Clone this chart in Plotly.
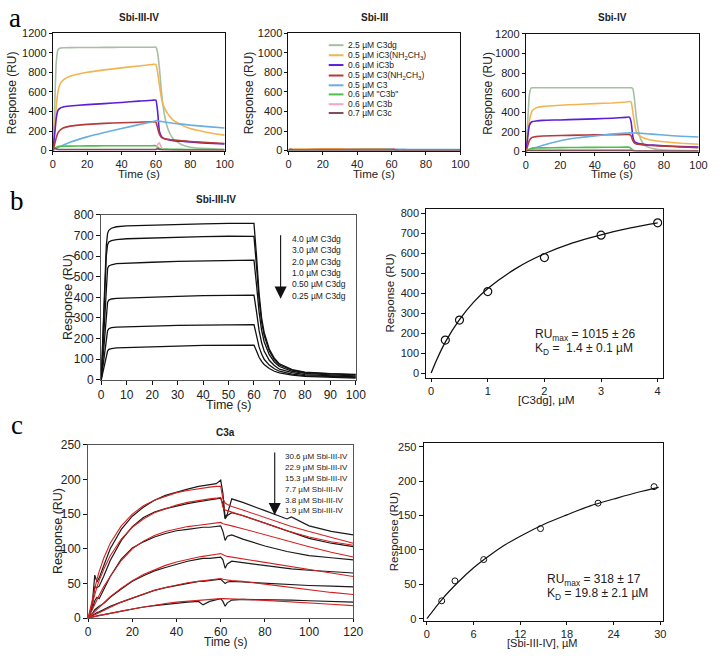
import plotly.graph_objects as go

W, H = 722, 660
def PX(x): return x / W
def PY(y): return 1 - y / H

FONT = "Liberation Sans, Arial, sans-serif"
SERIF = "Liberation Serif, Times New Roman, serif"

# ---------------- Panel a data ----------------
species = ["2.5 µM C3dg", "0.5 µM iC3(NH<sub>2</sub>CH<sub>3</sub>)", "0.6 µM iC3b",
           "0.5 µM C3(NH<sub>2</sub>CH<sub>3</sub>)", "0.5 µM C3", "0.6 µM \"C3b\"",
           "0.6 µM C3b", "0.7 µM C3c"]
species_colors = ["#a7bfa3", "#f2b451", "#5b1fd6", "#b53a3a", "#6aaee0", "#4cc04c",
                  "#f2a7c4", "#7e5058"]

t_a = [0, 1, 2, 3, 4, 6, 10, 20, 30, 40, 50, 58, 60, 61, 62, 63, 64, 66, 68, 70, 75, 80, 90, 100]

a1_C3dg   = [0, 400, 900, 1030, 1045, 1050, 1052, 1053, 1054, 1055, 1055, 1056, 1056, 1000, 850, 650, 480, 280, 180, 120, 60, 35, 20, 12]
a1_iC3NH  = [0, 200, 450, 600, 670, 720, 760, 800, 825, 845, 865, 880, 880, 800, 680, 560, 480, 400, 350, 310, 260, 225, 185, 158]
a1_iC3b   = [0, 150, 330, 410, 430, 445, 455, 470, 480, 492, 505, 515, 515, 400, 200, 150, 130, 115, 108, 102, 95, 88, 75, 67]
a1_C3NH   = [0, 60, 130, 180, 205, 230, 250, 268, 278, 285, 290, 295, 290, 230, 170, 140, 128, 118, 112, 108, 100, 93, 82, 72]
a1_C3     = [0, 10, 20, 30, 40, 55, 85, 140, 185, 225, 265, 295, 305, 305, 300, 298, 295, 290, 285, 280, 270, 260, 245, 230]
a1_C3bq   = [0, 15, 35, 42, 44, 45, 46, 48, 49, 50, 50, 50, 50, 35, 22, 18, 16, 15, 14, 13, 12, 11, 10, 9]
a1_C3b    = [0, 15, 12, 10, 9, 8, 8, 8, 8, 8, 8, 9, 10, 60, 80, 40, 15, 8, 7, 6, 6, 5, 5, 5]
a1_C3c    = [0, 25, 18, 12, 10, 10, 10, 10, 10, 10, 10, 10, 10, 20, 10, 8, 7, 6, 6, 5, 5, 5, 5, 5]

a2_C3dg   = [0, 12, 10, 10, 10, 10, 10, 10, 10, 10, 10, 10, 10, 15, 8, 6, 5, 5, 5, 5, 5, 5, 5, 5]
a2_iC3NH  = [0, 14, 16, 16, 16, 16, 16, 17, 17, 17, 18, 18, 18, 14, 10, 9, 9, 9, 9, 9, 8, 8, 8, 8]
a2_iC3b   = [0, 8, 7, 7, 7, 7, 7, 7, 7, 7, 7, 7, 7, 10, 6, 5, 5, 5, 5, 5, 5, 5, 5, 5]
a2_C3NH   = [0, 10, 9, 9, 9, 9, 9, 10, 10, 10, 10, 10, 10, 14, 8, 7, 6, 6, 6, 6, 6, 6, 6, 6]
a2_C3     = [0, 5, 6, 6, 6, 7, 7, 8, 9, 10, 11, 12, 12, 12, 12, 12, 12, 12, 12, 11, 11, 11, 10, 10]
a2_C3bq   = [0, 6, 6, 6, 6, 6, 6, 6, 6, 6, 6, 6, 6, 8, 5, 4, 4, 4, 4, 4, 4, 4, 4, 4]
a2_C3b    = [0, 20, 10, 6, 6, 6, 6, 6, 6, 6, 6, 6, 6, 22, 14, 6, 5, 4, 4, 4, 4, 4, 4, 4]
a2_C3c    = [0, 14, 8, 6, 6, 6, 6, 6, 6, 6, 6, 6, 6, 12, 6, 5, 4, 4, 4, 4, 4, 4, 4, 4]

a3_C3dg   = [0, 250, 560, 645, 650, 650, 650, 650, 650, 650, 650, 650, 650, 650, 640, 520, 350, 150, 80, 50, 25, 15, 10, 8]
a3_iC3NH  = [0, 150, 300, 380, 420, 445, 460, 472, 480, 488, 495, 505, 510, 505, 400, 280, 200, 160, 140, 128, 110, 100, 85, 75]
a3_iC3b   = [0, 120, 260, 295, 305, 312, 318, 322, 328, 333, 340, 348, 350, 300, 150, 100, 90, 80, 75, 70, 64, 58, 50, 45]
a3_C3NH   = [0, 50, 110, 135, 145, 152, 158, 163, 167, 170, 172, 174, 175, 160, 110, 85, 78, 72, 68, 65, 60, 55, 47, 40]
a3_C3     = [0, 8, 16, 24, 30, 42, 65, 110, 140, 160, 178, 188, 190, 190, 190, 189, 188, 186, 184, 181, 175, 168, 156, 148]
a3_C3bq   = [0, 10, 25, 32, 35, 37, 38, 40, 42, 43, 44, 45, 45, 30, 15, 10, 8, 7, 6, 6, 5, 5, 5, 5]
a3_C3b    = [0, 18, 16, 15, 15, 15, 15, 15, 15, 15, 15, 15, 15, 20, 10, 7, 6, 5, 5, 5, 5, 5, 5, 5]
a3_C3c    = [0, 14, 12, 10, 10, 10, 10, 10, 10, 10, 10, 10, 10, 12, 8, 6, 5, 5, 5, 5, 5, 5, 5, 5]

a_panels = [
    ("Sbi-III-IV", [a1_C3dg, a1_iC3NH, a1_iC3b, a1_C3NH, a1_C3, a1_C3bq, a1_C3b, a1_C3c]),
    ("Sbi-III",    [a2_C3dg, a2_iC3NH, a2_iC3b, a2_C3NH, a2_C3, a2_C3bq, a2_C3b, a2_C3c]),
    ("Sbi-IV",     [a3_C3dg, a3_iC3NH, a3_iC3b, a3_C3NH, a3_C3, a3_C3bq, a3_C3b, a3_C3c]),
]

# ---------------- Panel b data ----------------
b_labels = ["4.0 µM C3dg", "3.0 µM C3dg", "2.0 µM C3dg", "1.0 µM C3dg", "0.50 µM C3dg", "0.25 µM C3dg"]
t_b = [0, 1, 2, 2.5, 3, 4, 6, 10, 20, 30, 40, 50, 58, 60, 61, 62, 63, 64, 66, 68, 70, 75, 80, 90, 100]
b_c40 = [0, 300, 650, 710, 725, 735, 742, 746, 750, 753, 756, 758, 760, 758, 600, 420, 300, 230, 150, 105, 78, 50, 38, 30, 27]
b_c30 = [0, 270, 600, 655, 668, 675, 680, 684, 688, 691, 694, 696, 698, 695, 550, 390, 280, 215, 140, 98, 72, 47, 35, 28, 24]
b_c20 = [0, 220, 490, 540, 552, 558, 563, 566, 570, 574, 577, 580, 582, 580, 460, 330, 240, 185, 122, 87, 65, 42, 32, 24, 20]
b_c10 = [0, 150, 330, 375, 387, 392, 395, 397, 401, 405, 408, 411, 413, 411, 330, 240, 180, 140, 95, 70, 52, 35, 26, 19, 15]
b_c05 = [0, 90, 200, 238, 248, 253, 256, 258, 261, 264, 266, 268, 270, 268, 215, 160, 125, 100, 72, 54, 42, 28, 21, 15, 12]
b_c025 = [0, 55, 120, 140, 148, 152, 155, 157, 161, 164, 167, 169, 171, 169, 140, 110, 90, 75, 55, 42, 34, 23, 17, 12, 9]

b_conc = [0.25, 0.5, 1, 2, 3, 4]
b_resp = [165, 265, 408, 578, 690, 752]
b_fit_x = [0, 0.1, 0.25, 0.5, 0.75, 1, 1.5, 2, 2.5, 3, 3.5, 4]
b_fit_y = [0, 68, 155, 267, 355, 423, 524, 597, 652, 692, 725, 752]

# ---------------- Panel c data ----------------
c_labels = ["30.6 µM Sbi-III-IV", "22.9 µM Sbi-III-IV", "15.3 µM Sbi-III-IV",
            "7.7 µM Sbi-III-IV", "3.8 µM Sbi-III-IV", "1.9 µM Sbi-III-IV"]
t_c = [0, 1, 2, 3, 4, 5, 7, 10, 15, 20, 25, 30, 35, 40, 45, 50, 52, 55, 58, 60, 61, 62, 63, 65, 70, 80, 90, 92, 100, 110, 120]
c_obs1 = [0, 10, 25, 62, 52, 58, 75, 100, 128, 147, 160, 170, 177, 182, 186, 190, 191, 192, 194, 199, 180, 145, 150, 172, 167, 155, 143, 146, 133, 125, 120]
c_fit1 = [0, 15, 30, 44, 56, 67, 86, 108, 133, 150, 162, 170, 176, 181, 184, 187, 188, 189, 190, 190, 172, 166, 164, 161, 156, 145, 134, 132, 125, 116, 108]
c_obs2 = [0, 8, 20, 45, 44, 46, 60, 83, 112, 132, 145, 153, 158, 162, 165, 168, 169, 170, 171, 173, 165, 143, 148, 152, 148, 137, 125, 123, 115, 108, 103]
c_fit2 = [0, 12, 24, 35, 45, 54, 70, 90, 114, 131, 143, 152, 158, 163, 167, 170, 171, 172, 173, 174, 160, 156, 155, 153, 148, 137, 126, 124, 117, 110, 105]
c_obs3 = [0, 6, 14, 25, 30, 28, 40, 60, 85, 101, 110, 117, 122, 126, 128, 130, 131, 131, 132, 133, 125, 112, 118, 120, 114, 104, 96, 95, 90, 87, 84]
c_fit3 = [0, 7, 14, 21, 27, 33, 45, 60, 83, 100, 111, 119, 125, 129, 132, 134, 135, 136, 137, 138, 136, 135, 134, 133, 129, 120, 111, 110, 103, 95, 88]
c_obs4 = [0, 3, 7, 12, 15, 17, 21, 30, 42, 53, 61, 68, 73, 78, 82, 85, 86, 86, 87, 88, 84, 72, 78, 82, 80, 76, 72, 71, 69, 67, 65]
c_fit4 = [0, 3, 6, 10, 13, 16, 22, 31, 43, 54, 63, 70, 76, 81, 85, 88, 89, 90, 92, 93, 91, 90, 89, 88, 86, 81, 76, 75, 71, 65, 60]
c_obs5 = [0, 2, 4, 7, 8, 9, 12, 17, 23, 29, 35, 40, 44, 47, 50, 53, 53, 54, 55, 56, 53, 50, 52, 53, 52, 50, 48, 48, 47, 46, 45]
c_fit5 = [0, 1.5, 3, 5, 6.5, 8, 11, 16, 23, 29, 35, 40, 44, 48, 51, 53, 54, 55, 56, 57, 56, 55, 55, 54, 53, 49, 45, 44, 41, 37, 34]
c_obs6 = [0, 1, 2, 3, 3.5, 4, 5, 7, 10, 13, 16, 18, 20, 22, 23, 24, 19, 24, 26, 28, 24, 17, 22, 26, 27, 27, 26, 26, 25, 24, 23]
c_fit6 = [0, 0.7, 1.5, 2, 3, 3.5, 5, 7, 10, 13, 16, 18, 21, 23, 24.5, 26, 26.5, 27, 27.5, 28, 28, 28, 27.8, 27.5, 27, 25.5, 24, 23.7, 22, 20, 18]

c_conc = [1.9, 3.6, 7.3, 14.6, 22.0, 29.2]
c_resp = [26, 55, 86, 131, 168, 192]
c_fit_x = [0, 2, 4, 6, 8, 10, 12, 15, 18, 21, 24, 27, 29.8]
c_fit_y = [0, 29, 53, 74, 91.5, 107, 120, 137, 151, 164, 174, 183.5, 191]

fig = go.Figure()

# ---------------- traces ----------------
for k, (title, curves) in enumerate(a_panels):
    ax = "" if k == 0 else str(k + 1)
    for name, col, ys in zip(species, species_colors, curves):
        fig.add_trace(go.Scatter(x=t_a, y=ys, mode="lines", name=name,
                                 line=dict(color=col, width=1.6, shape="spline", smoothing=0.4),
                                 xaxis="x" + ax, yaxis="y" + ax, showlegend=False))

for ys in [b_c40, b_c30, b_c20, b_c10, b_c05, b_c025]:
    fig.add_trace(go.Scatter(x=t_b, y=ys, mode="lines", line=dict(color="#111", width=1.3),
                             xaxis="x4", yaxis="y4", showlegend=False))

fig.add_trace(go.Scatter(x=b_fit_x, y=b_fit_y, mode="lines", line=dict(color="#111", width=1.3, shape="spline"),
                         xaxis="x5", yaxis="y5", showlegend=False))
fig.add_trace(go.Scatter(x=b_conc, y=b_resp, mode="markers",
                         marker=dict(symbol="circle-open", size=8, color="#111", line=dict(width=1.2)),
                         xaxis="x5", yaxis="y5", showlegend=False))

for obs in [c_obs1, c_obs2, c_obs3, c_obs4, c_obs5, c_obs6]:
    fig.add_trace(go.Scatter(x=t_c, y=obs, mode="lines", line=dict(color="#1a1a1a", width=1.2),
                             xaxis="x6", yaxis="y6", showlegend=False))
for fit in [c_fit1, c_fit2, c_fit3, c_fit4, c_fit5, c_fit6]:
    fig.add_trace(go.Scatter(x=t_c, y=fit, mode="lines", line=dict(color="#d42020", width=1.1),
                             xaxis="x6", yaxis="y6", showlegend=False))

fig.add_trace(go.Scatter(x=c_fit_x, y=c_fit_y, mode="lines", line=dict(color="#111", width=1.2, shape="spline"),
                         xaxis="x7", yaxis="y7", showlegend=False))
fig.add_trace(go.Scatter(x=c_conc, y=c_resp, mode="markers",
                         marker=dict(symbol="circle-open", size=6, color="#111", line=dict(width=1)),
                         xaxis="x7", yaxis="y7", showlegend=False))

# ---------------- axes ----------------
def axis(dom, rng, dtick, fs, ticklen=3, linecolor="#111"):
    return dict(domain=dom, range=rng, dtick=dtick, tick0=0, showgrid=False, zeroline=False,
                showline=True, linecolor=linecolor, linewidth=1, mirror=True,
                ticks="outside", ticklen=ticklen, tickwidth=1, tickcolor="#111",
                tickfont=dict(family=FONT, size=fs, color="#222"))

lay = {}
a_x = [(50.7, 225.7), (290.7, 465.7), (532.3, 708.3)]
a_y = [(26.7, 146.7), (26.7, 146.7), (27.3, 147.7)]
for k in range(3):
    sx = "xaxis" if k == 0 else "xaxis%d" % (k + 1)
    sy = "yaxis" if k == 0 else "yaxis%d" % (k + 1)
    idx = "" if k == 0 else str(k + 1)
    lay[sx] = axis([PX(a_x[k][0]), PX(a_x[k][1])], [0, 100], 20, 11)
    lay[sx]["anchor"] = "y" + idx
    lay[sy] = axis([PY(a_y[k][1]), PY(a_y[k][0])], [0, 1200], 200, 11)
    lay[sy]["anchor"] = "x" + idx

lay["xaxis4"] = dict(axis([PX(100), PX(359.3)], [0, 100], 10, 12, 4, "#555"), anchor="y4")
lay["yaxis4"] = dict(axis([PY(381), PY(212.3)], [0, 800], 100, 12, 4, "#555"), anchor="x4")
lay["xaxis5"] = dict(axis([PX(431), PX(671.7)], [-0.087, 4.087], 1, 11, 3), anchor="y5")
lay["yaxis5"] = dict(axis([PY(379.3), PY(206)], [-26, 823], 100, 11, 4), anchor="x5")
lay["xaxis6"] = dict(axis([PX(86.7), PX(356.7)], [0, 120], 20, 12, 3, "#555"), anchor="y6")
lay["yaxis6"] = dict(axis([PY(624.3), PY(447.3)], [0, 250], 50, 12, 4, "#555"), anchor="x6")
lay["xaxis7"] = dict(axis([PX(428.3), PX(671.7)], [-0.43, 30.3], 6, 11, 3), anchor="y7")
lay["yaxis7"] = dict(axis([PY(627.3), PY(445.7)], [-3.3, 255.1], 50, 11, 4), anchor="x7")

fig.update_layout(width=W, height=H, margin=dict(l=0, r=0, t=0, b=0),
                  paper_bgcolor="white", plot_bgcolor="white", showlegend=False, **lay)

ann = []
def text(x, y, s, size, bold=False, anchor="center", angle=0, family=FONT, color="#222"):
    ann.append(dict(x=PX(x), y=PY(y), xref="paper", yref="paper", text=("<b>%s</b>" % s) if bold else s,
                    showarrow=False, xanchor=anchor, yanchor="middle", textangle=angle,
                    font=dict(family=family, size=size, color=color)))

# panel letters
text(12, 11, "a", 27, family=SERIF, color="#000")
text(14, 198, "b", 27, family=SERIF, color="#000")
text(14, 427, "c", 27, family=SERIF, color="#000")

# panel a titles and axis titles
for (title, _), (x0, x1), (y0, y1), ytx in zip(a_panels, a_x, a_y, [9.5, 250, 493]):
    text((x0 + x1) / 2, 11, title, 10, bold=True)
    text((x0 + x1) / 2, 170.5, "Time (s)", 11.5)
    text(ytx, (y0 + y1) / 2 + 1, "Response (RU)", 12, angle=-90)

# legend in panel a (middle)
leg_y = [39, 49.3, 59.3, 70, 80, 89.3, 99.3, 108.3]
shapes = []
for name, col, yy in zip(species, species_colors, leg_y):
    shapes.append(dict(type="line", xref="paper", yref="paper", x0=PX(331.7), x1=PX(346.7),
                       y0=PY(yy), y1=PY(yy), line=dict(color=col, width=2)))
    text(349, yy, name, 8.5, anchor="left")

# panel b
text(216.7, 197, "Sbi-III-IV", 10, bold=True)
text(229.7, 407, "Time (s)", 12.5)
text(66, 296.6, "Response (RU)", 12.5, angle=-90)
for i, lab in enumerate(b_labels):
    text(292, 237 + 11.6 * i, lab, 8.5, anchor="left")
ann.append(dict(x=PX(282.7), y=PY(298), xref="paper", yref="paper", text="", showarrow=True,
                ax=0, ay=-65, arrowhead=2, arrowsize=2.2, arrowwidth=1.1, arrowcolor="#111"))
text(394.3, 292.6, "Response (RU)", 11.5, angle=-90)
text(552.7, 402, "[C3dg], µM", 11.5)
text(540, 335.3, "RU<sub>max</sub> = 1015 ± 26", 12, anchor="left")
text(540, 349.3, "K<sub>D</sub> =\u00a0\u00a01.4 ± 0.1 µM", 12, anchor="left")

# panel c
text(226.7, 435, "C3a", 10, bold=True)
text(226.7, 648.5, "Time (s)", 12)
text(56.7, 535.8, "Response (RU)", 12.5, angle=-90)
for i, lab in enumerate(c_labels):
    text(285, 459.3 + 11.1 * i, lab, 8, anchor="left")
ann.append(dict(x=PX(276.7), y=PY(519), xref="paper", yref="paper", text="", showarrow=True,
                ax=0, ay=-64, arrowhead=2, arrowsize=2.2, arrowwidth=1.1, arrowcolor="#111"))
text(398.3, 536.5, "Response (RU)", 11.5, angle=-90)
text(549.3, 649.5, "[Sbi-III-IV], µM", 11)
text(551.7, 585.7, "RU<sub>max</sub> = 318 ± 17", 12, anchor="left")
text(551.7, 599.3, "K<sub>D</sub> = 19.8 ± 2.1 µM", 12, anchor="left")

fig.update_layout(annotations=ann, shapes=shapes)
fig.write_html("out.html", config={"displayModeBar": False},
               post_script="document.body.style.margin='0';document.body.style.overflow='hidden';")
